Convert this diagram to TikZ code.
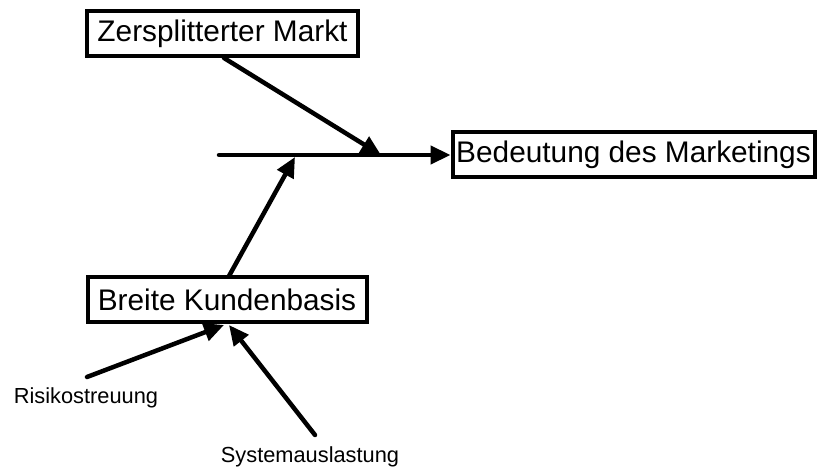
\documentclass[tikz,border=0pt]{standalone}
\usepackage{fontspec}
\setmainfont{Liberation Sans}
\usetikzlibrary{arrows.meta}
\begin{document}
\begin{tikzpicture}[x=1pt,y=-1pt,
  box/.style={draw,line width=4pt,inner sep=0pt,minimum height=45pt,
    font=\fontsize{29.8}{34}\selectfont},
  small/.style={inner sep=0pt,font=\fontsize{21.8}{26}\selectfont},
  conn/.style={line width=4.5pt,line cap=round,
    -{Triangle[length=20pt,width=18pt]}},
  spine/.style={line width=4.5pt,line cap=round}]
\useasboundingbox (0,0) rectangle (820,468);
% boxes
\node[box,minimum width=271pt] (zm) at (222.5,34) {Zersplitterter Markt};
\node[box,minimum width=362pt] (bm) at (633.5,155) {Bedeutung des Marketings};
\node[box,minimum width=279pt] (bk) at (227,299.5) {Breite Kundenbasis};
% small labels
\node[small] (rs) at (86,398) {Risikostreuung};
\node[small] (sa) at (310,457) {Systemauslastung};
% points on the spine and free ends
\coordinate (tail) at (219,155);
\coordinate (j1) at (381,155);
\coordinate (j2) at (295,157);
\coordinate (zs) at (224,58);
\coordinate (bs) at (229,276);
\coordinate (r0) at (87,377);
\coordinate (s0) at (315,435);
\coordinate (rt) at (224,325);
\coordinate (st) at (229,325);
% connectors
\draw[conn] (tail) -- (bm.west);
\draw[conn] (zs) -- (j1);
\draw[conn] (bs) -- (j2);
\draw[conn] (r0) -- (rt);
\draw[conn] (s0) -- (st);
\end{tikzpicture}
\end{document}
